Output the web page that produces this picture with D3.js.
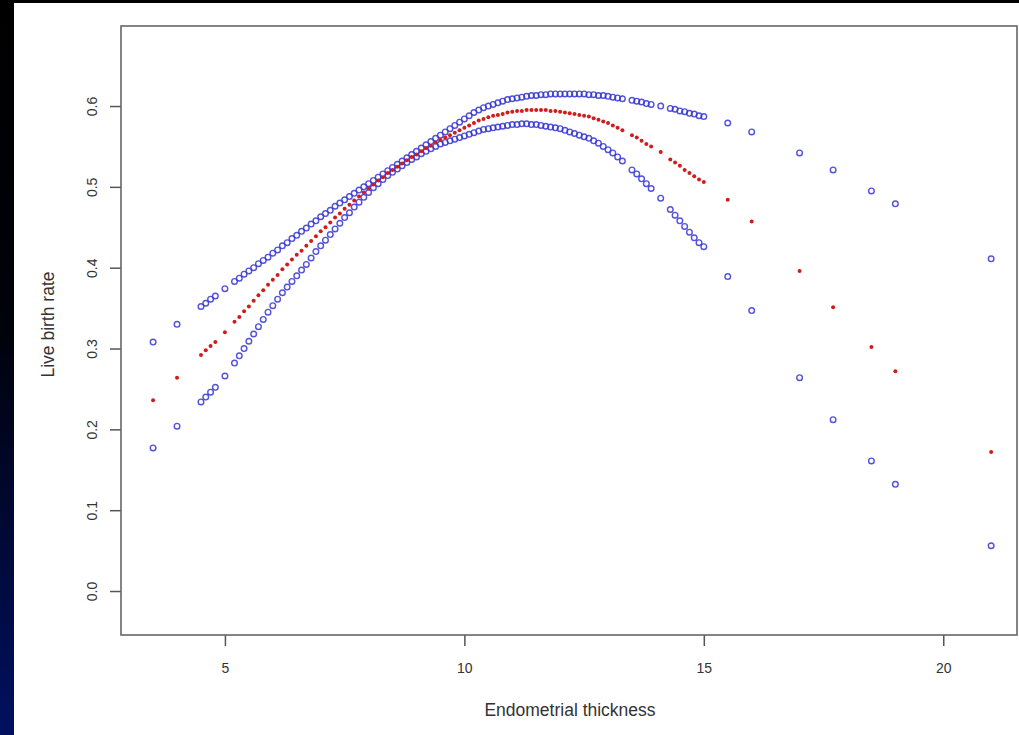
<!DOCTYPE html>
<html>
<head>
<meta charset="utf-8">
<script src="https://cdn.jsdelivr.net/npm/d3@7"></script>
<style>
  html, body { margin: 0; padding: 0; background: #000; }
  svg { display: block; }
</style>
</head>
<body>
<div id="chart"></div>
<script>
// thickness values (mm)
const thickness = [
  3.5, 4.0,
  4.5, 4.6, 4.7, 4.8, 5.0, 5.2, 5.3, 5.4, 5.5, 5.6, 5.7, 5.8, 5.9,
  6.0, 6.1, 6.2, 6.3, 6.4, 6.5, 6.6, 6.7, 6.8, 6.9,
  7.0, 7.1, 7.2, 7.3, 7.4, 7.5, 7.6, 7.7, 7.8, 7.9,
  8.0, 8.1, 8.2, 8.3, 8.4, 8.5, 8.6, 8.7, 8.8, 8.9,
  9.0, 9.1, 9.2, 9.3, 9.4, 9.5, 9.6, 9.7, 9.8, 9.9,
  10.0, 10.1, 10.2, 10.3, 10.4, 10.5, 10.6, 10.7, 10.8, 10.9,
  11.0, 11.1, 11.2, 11.3, 11.4, 11.5, 11.6, 11.7, 11.8, 11.9,
  12.0, 12.1, 12.2, 12.3, 12.4, 12.5, 12.6, 12.7, 12.8, 12.9,
  13.0, 13.1, 13.2, 13.3, 13.5, 13.6, 13.7, 13.8, 13.9,
  14.1, 14.3, 14.4, 14.5, 14.6, 14.7, 14.8, 14.9, 15.0,
  15.5, 16.0, 17.0, 17.7, 18.5, 19.0, 21.0
];

// upper confidence limit (blue circles)
const upperCI = [
  0.308, 0.330,
  0.352, 0.356, 0.361, 0.365, 0.374, 0.383, 0.387, 0.392, 0.396, 0.400, 0.405, 0.409, 0.413,
  0.418, 0.422, 0.427, 0.431, 0.436, 0.440, 0.445, 0.449, 0.454, 0.458,
  0.463, 0.467, 0.471, 0.476, 0.480, 0.484, 0.488, 0.492, 0.496, 0.500,
  0.504, 0.508, 0.512, 0.516, 0.520, 0.524, 0.528, 0.532, 0.536, 0.540,
  0.544, 0.548, 0.552, 0.556, 0.560, 0.564, 0.568, 0.572, 0.576, 0.580,
  0.584, 0.588, 0.592, 0.595, 0.598, 0.600, 0.602, 0.604, 0.606, 0.608,
  0.609, 0.610, 0.611, 0.612, 0.613, 0.613, 0.614, 0.614, 0.615, 0.615,
  0.615, 0.615, 0.615, 0.615, 0.615, 0.615, 0.614, 0.614, 0.613, 0.613,
  0.612, 0.611, 0.610, 0.609, 0.607, 0.606, 0.605, 0.603, 0.602,
  0.600, 0.597, 0.596, 0.594, 0.593, 0.591, 0.590, 0.588, 0.587,
  0.579, 0.568, 0.542, 0.521, 0.495, 0.479, 0.411
];

// predicted live birth rate (red dots)
const predicted = [
  0.236, 0.264,
  0.292, 0.298, 0.303, 0.308, 0.320, 0.333, 0.339, 0.346, 0.352, 0.359, 0.366, 0.372, 0.379,
  0.385, 0.391, 0.398, 0.404, 0.410, 0.416, 0.421, 0.427, 0.433, 0.439,
  0.445, 0.450, 0.456, 0.462, 0.467, 0.473, 0.478, 0.483, 0.488, 0.493,
  0.498, 0.503, 0.508, 0.512, 0.517, 0.521, 0.525, 0.529, 0.533, 0.537,
  0.540, 0.544, 0.548, 0.551, 0.555, 0.558, 0.561, 0.564, 0.567, 0.570,
  0.573, 0.576, 0.579, 0.582, 0.584, 0.586, 0.588, 0.589, 0.590, 0.592,
  0.593, 0.594, 0.594, 0.595, 0.595, 0.595, 0.595, 0.595, 0.594, 0.594,
  0.593, 0.592, 0.591, 0.590, 0.589, 0.588, 0.587, 0.585, 0.583, 0.581,
  0.579, 0.576, 0.573, 0.570, 0.564, 0.561, 0.557, 0.553, 0.550,
  0.543, 0.534, 0.530, 0.526, 0.521, 0.517, 0.513, 0.509, 0.506,
  0.484, 0.457, 0.396, 0.351, 0.302, 0.272, 0.172
];

// lower confidence limit (blue circles)
const lowerCI = [
  0.177, 0.204,
  0.234, 0.240, 0.246, 0.252, 0.266, 0.282, 0.291, 0.300, 0.309, 0.318, 0.327, 0.336, 0.345,
  0.353, 0.361, 0.369, 0.376, 0.383, 0.390, 0.397, 0.404, 0.412, 0.420,
  0.427, 0.434, 0.441, 0.448, 0.455, 0.462, 0.468, 0.475, 0.481, 0.487,
  0.493, 0.499, 0.504, 0.509, 0.514, 0.518, 0.522, 0.526, 0.530, 0.534,
  0.537, 0.541, 0.544, 0.547, 0.550, 0.553, 0.555, 0.557, 0.559, 0.561,
  0.563, 0.565, 0.567, 0.569, 0.571, 0.572, 0.573, 0.574, 0.575, 0.576,
  0.577, 0.577, 0.578, 0.578, 0.577, 0.577, 0.576, 0.575, 0.574, 0.573,
  0.572, 0.570, 0.568, 0.566, 0.564, 0.562, 0.560, 0.557, 0.554, 0.550,
  0.546, 0.542, 0.537, 0.532, 0.521, 0.516, 0.510, 0.504, 0.498,
  0.486, 0.472, 0.465, 0.458, 0.451, 0.444, 0.437, 0.431, 0.426,
  0.389, 0.347, 0.264, 0.212, 0.161, 0.132, 0.056
];

const xTicks = [5, 10, 15, 20];
const yTicks = [0.0, 0.1, 0.2, 0.3, 0.4, 0.5, 0.6];

const width = 1019, height = 735;
const plot = { left: 121, right: 1017, top: 26, bottom: 635 };

const svg = d3.select("#chart").append("svg")
  .attr("width", width)
  .attr("height", height);

// slide background: black edge with a dark blue fade on the left
const defs = svg.append("defs");
const grad = defs.append("linearGradient")
  .attr("id", "sideFade")
  .attr("x1", 0).attr("y1", 0).attr("x2", 0).attr("y2", 1);
grad.append("stop").attr("offset", "0%").attr("stop-color", "#000000");
grad.append("stop").attr("offset", "45%").attr("stop-color", "#00020a");
grad.append("stop").attr("offset", "100%").attr("stop-color", "#001060");

svg.append("rect")
  .attr("width", width).attr("height", height)
  .attr("fill", "#000");
svg.append("rect")
  .attr("x", 0).attr("y", 0).attr("width", 14).attr("height", height)
  .attr("fill", "url(#sideFade)");
svg.append("rect")
  .attr("x", 14).attr("y", 3).attr("width", width - 14).attr("height", height - 3)
  .attr("fill", "#fff");

const x = d3.scaleLinear()
  .domain([2.83, 21.54])
  .range([plot.left, plot.right]);

const y = d3.scaleLinear()
  .domain([-0.0544, 0.699])
  .range([plot.bottom, plot.top]);

const textColor = "#333";
const font = "'Liberation Sans', Arial, sans-serif";

// x axis
const xAxis = svg.append("g")
  .attr("transform", `translate(0, ${plot.bottom})`)
  .call(d3.axisBottom(x).tickValues(xTicks).tickSize(11).tickPadding(17)
    .tickFormat(d3.format("d")));
xAxis.select(".domain").remove();
xAxis.selectAll("line").attr("stroke", "#555").attr("stroke-width", 1.5);
xAxis.selectAll("text")
  .attr("fill", textColor)
  .style("font-family", font)
  .style("font-size", "14px");

// y axis, labels parallel to the axis like R does
const yAxis = svg.append("g")
  .attr("transform", `translate(${plot.left}, 0)`)
  .call(d3.axisLeft(y).tickValues(yTicks).tickSize(11).tickFormat(d3.format(".1f")));
yAxis.select(".domain").remove();
yAxis.selectAll("line").attr("stroke", "#555").attr("stroke-width", 1.5);
yAxis.selectAll("text")
  .attr("x", null).attr("dy", null)
  .attr("text-anchor", "middle")
  .attr("transform", "translate(-24, 0) rotate(-90)")
  .attr("fill", textColor)
  .style("font-family", font)
  .style("font-size", "14px");

// plot box
svg.append("rect")
  .attr("x", plot.left).attr("y", plot.top)
  .attr("width", plot.right - plot.left).attr("height", plot.bottom - plot.top)
  .attr("fill", "none")
  .attr("stroke", "#666")
  .attr("stroke-width", 1.6);

// axis titles
svg.append("text")
  .attr("x", (plot.left + plot.right) / 2 + 1)
  .attr("y", 716)
  .attr("text-anchor", "middle")
  .attr("fill", textColor)
  .style("font-family", font)
  .style("font-size", "17.5px")
  .text("Endometrial thickness");

svg.append("text")
  .attr("transform", `translate(54, ${(plot.top + plot.bottom) / 2 - 6}) rotate(-90)`)
  .attr("text-anchor", "middle")
  .attr("fill", textColor)
  .style("font-family", font)
  .style("font-size", "17.5px")
  .text("Live birth rate");

const rows = thickness.map((t, i) => ({
  t, upper: upperCI[i], pred: predicted[i], lower: lowerCI[i]
}));

// confidence limits as open circles
["upper", "lower"].forEach(key => {
  svg.append("g")
    .selectAll("circle")
    .data(rows)
    .enter()
    .append("circle")
    .attr("cx", d => x(d.t))
    .attr("cy", d => y(d[key]))
    .attr("r", 2.8)
    .attr("fill", "none")
    .attr("stroke", "#3434d4")
    .attr("stroke-width", 1.4)
    .attr("stroke-opacity", 0.85);
});

// predicted values as small red dots
svg.append("g")
  .selectAll("circle")
  .data(rows)
  .enter()
  .append("circle")
  .attr("cx", d => x(d.t))
  .attr("cy", d => y(d.pred))
  .attr("r", 2)
  .attr("fill", "#d01c1c");
</script>
</body>
</html>
